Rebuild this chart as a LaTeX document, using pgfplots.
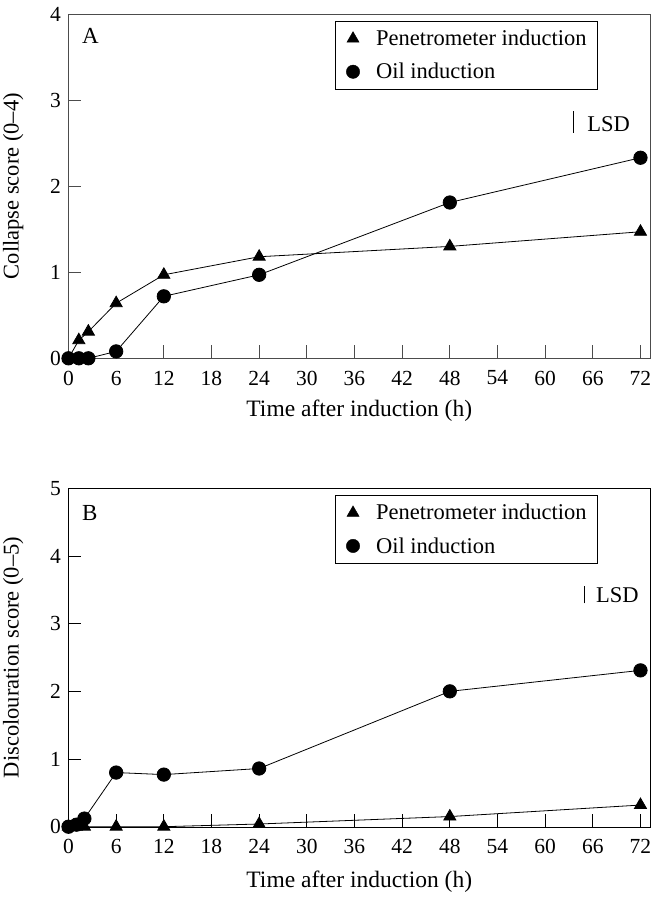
\documentclass[border=0pt]{standalone}
\usepackage{fontspec}
\setmainfont{Liberation Serif}
\usepackage{pgfplots}
\pgfplotsset{compat=1.18}
\pgfplotstableread{
t    pen    oil
0    0      0
1.3  0.21   0
2.5  0.31   0
6    0.64   0.08
12   0.97   0.72
24   1.18   0.97
48   1.30   1.81
72   1.47   2.33
}\dataA
\pgfplotstableread{
t    pen    oil
0    0      0
1    0      0.03
2    0      0.12
6    0      0.80
12   0.0    0.77
24   0.04   0.86
48   0.15   2.00
72   0.32   2.31
}\dataB
\newcommand{\fs}{\fontsize{22.5}{27}\selectfont}
\newcommand{\ft}{\fontsize{21.5}{26}\selectfont}
\newcommand{\fx}{\fontsize{23.5}{28}\selectfont}
\begin{document}
\begin{tikzpicture}[font=\fs]
\pgfplotsset{
  myaxis/.style={
    scale only axis, width=581.5pt,
    xmin=0, xmax=73.2,
    xtick={0,6,...,72},
    tick pos=left, tick align=inside, major tick length=13pt,
    /pgf/number format/assume math mode=true,
    tick label style={font=\ft},
    xticklabel style={yshift=-9pt},
    yticklabel style={xshift=-4pt},
    label style={font=\fs},
    xlabel={Time after induction (h)},
    xlabel style={font=\fx},
    legend style={at={(0.458,0.98)}, anchor=north west, draw=black, font=\fs,
      nodes={inner sep=0pt}, row sep=16pt, column sep=16pt,
      inner xsep=11pt, inner ysep=9pt},
    legend image code/.code={\path[draw=none, fill=none] (-7pt,-7pt) rectangle (7pt,7pt); \draw[##1] plot coordinates {(0pt,0pt)};},
    legend cell align=left,
    clip=false,
  },
  pen/.style={black, line width=0.8pt, mark=triangle*, mark size=7pt, mark options={solid}},
  oil/.style={black, line width=0.8pt, mark=*, mark size=6.7pt, mark options={solid}},
}
\begin{axis}[myaxis, height=344.3pt, ymin=0, ymax=4, ytick={0,1,2,3,4},
  axis line style={black!70}, every tick/.style={black!70, line width=0.8pt},
  ylabel={Collapse score (0--4)},
  ylabel style={at={(axis description cs:-0.095,0.5)}, anchor=center, rotate=0},
  xlabel style={at={(axis description cs:0.5,-0.151)}, anchor=center}]
\addlegendimage{only marks, mark=triangle*, mark size=7pt, black}
\addlegendentry{Penetrometer induction}
\addlegendimage{only marks, mark=*, mark size=6.7pt, black}
\addlegendentry{Oil induction}
\addplot[pen, forget plot] table[x=t, y=pen] {\dataA};
\addplot[oil, forget plot] table[x=t, y=oil] {\dataA};
\addplot[black, line width=1pt, forget plot] coordinates {(63.6,2.62) (63.6,2.87)};
\node[anchor=west, inner sep=0] at (axis cs:65.3,2.72) {LSD};
\node[anchor=west, inner sep=0, font=\fontsize{23}{27}\selectfont] at (axis cs:1.7,3.74) {A};
\end{axis}
\begin{axis}[myaxis, at={(0,-468.4pt)}, anchor=south west, height=338.4pt,
  ymin=0, ymax=5, ytick={0,1,2,3,4,5},
  every tick/.style={black, line width=0.8pt},
  ylabel={Discolouration score (0--5)},
  ylabel style={at={(axis description cs:-0.095,0.5)}, anchor=center, rotate=0},
  xlabel style={at={(axis description cs:0.5,-0.163)}, anchor=center}]
\addlegendimage{only marks, mark=triangle*, mark size=7pt, black}
\addlegendentry{Penetrometer induction}
\addlegendimage{only marks, mark=*, mark size=6.7pt, black}
\addlegendentry{Oil induction}
\addplot[pen, forget plot] table[x=t, y=pen] {\dataB};
\addplot[oil, forget plot] table[x=t, y=oil] {\dataB};
\addplot[black, line width=1pt, forget plot] coordinates {(64.9,3.30) (64.9,3.56)};
\node[anchor=west, inner sep=0] at (axis cs:66.4,3.42) {LSD};
\node[anchor=west, inner sep=0, font=\fontsize{23}{27}\selectfont] at (axis cs:1.7,4.63) {B};
\end{axis}
\pgfresetboundingbox
\path (-68.5pt,358.3pt) rectangle (589.5pt,-540.7pt);
\end{tikzpicture}
\end{document}
